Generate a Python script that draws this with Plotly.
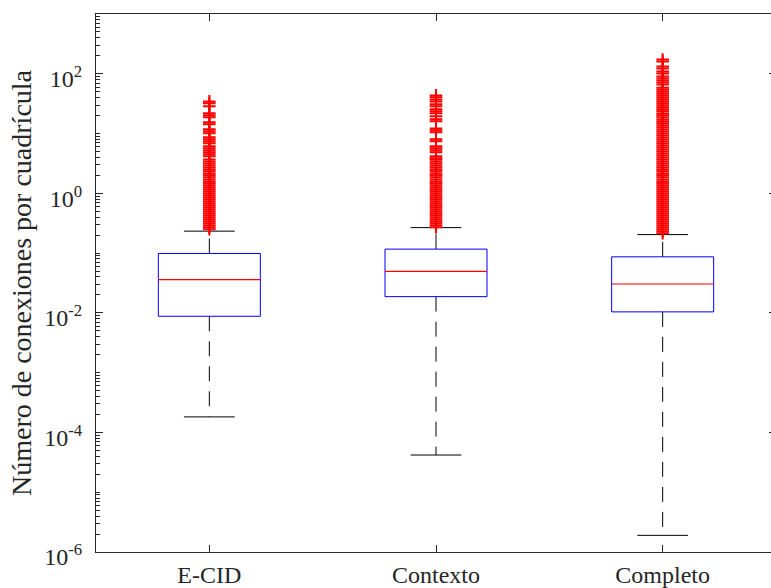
import plotly.graph_objects as go

# Box statistics per configuration
categories = ["E-CID", "Contexto", "Completo"]
q1 = [0.00878, 0.0187, 0.0104]
median = [0.0359, 0.0493, 0.0304]
q3 = [0.0985, 0.1166, 0.0867]
whisker_low = [1.82e-4, 4.19e-5, 1.9e-6]
whisker_high = [0.233, 0.267, 0.204]

# Outliers above the upper whisker
outliers_ecid = [
    0.251, 0.271, 0.293, 0.316, 0.342, 0.369, 0.398, 0.430, 0.464, 0.501,
    0.541, 0.584, 0.631, 0.681, 0.736, 0.794, 0.858, 0.926, 1.00, 1.08,
    1.17, 1.26, 1.36, 1.47, 1.58, 1.71, 1.85, 2.00, 2.15, 2.33,
    2.51, 2.71, 2.93, 3.16, 3.42, 3.69,
    4.19, 4.52, 4.88, 5.27, 5.69, 6.14, 6.89, 7.44, 8.03, 8.67,
    10.1, 10.9, 11.8, 14.3, 15.4, 18.7, 20.2, 21.8, 28.5, 32.0, 34.5,
]
outliers_contexto = [
    0.271, 0.293, 0.316, 0.342, 0.369, 0.398, 0.430, 0.464, 0.501, 0.541,
    0.584, 0.631, 0.681, 0.736, 0.794, 0.858, 0.926, 1.00, 1.08, 1.17,
    1.26, 1.36, 1.47, 1.58, 1.71, 1.85, 2.00, 2.15, 2.33, 2.51,
    2.71, 2.93, 3.16, 3.42, 3.69, 3.87,
    4.19, 4.88, 5.27, 5.69, 6.14, 7.44, 8.03, 10.5, 11.4, 12.2,
    16.0, 17.3, 19.4, 21.8, 23.5, 25.4, 28.5, 30.8, 34.5, 37.3, 40.3, 43.5,
]
outliers_completo = [
    0.215, 0.233, 0.251, 0.271, 0.293, 0.316, 0.342, 0.369, 0.398, 0.430,
    0.464, 0.501, 0.541, 0.584, 0.631, 0.681, 0.736, 0.794, 0.858, 0.926,
    1.00, 1.08, 1.17, 1.26, 1.36, 1.47, 1.58, 1.71, 1.85, 2.00,
    2.15, 2.33, 2.51, 2.71, 2.93, 3.16, 3.42, 3.69, 3.98, 4.30,
    4.64, 5.01, 5.41, 5.84, 6.31, 6.81, 7.36, 7.94, 8.58, 9.26,
    10.0, 10.8, 11.7, 12.6, 13.6, 14.7, 15.8, 17.1, 18.5, 20.0,
    21.5, 23.3, 25.1, 27.1, 29.3, 31.6, 34.1, 36.9, 39.8, 43.0,
    46.4, 50.1, 54.1, 58.4,
    66.4, 71.6, 77.3, 83.5, 90.0, 101.0, 109.0, 122.0, 132.0, 160.0, 173.0,
]
outliers = [outliers_ecid, outliers_contexto, outliers_completo]

y_tick_vals = [1e-6, 1e-4, 1e-2, 1, 1e2]
y_tick_text = ["10<sup>-6</sup>", "10<sup>-4</sup>", "10<sup>-2</sup>",
               "10<sup>0</sup>", "10<sup>2</sup>"]

SERIF = "Liberation Serif, Times New Roman, serif"
AXIS_COLOR = "#262626"
BOX_HALF = 0.225
CAP_HALF = 0.112

fig = go.Figure()

for i, name in enumerate(categories):
    x = i + 1
    # dashed whiskers, drawn from the box outwards
    for start, end in ((q1[i], whisker_low[i]), (q3[i], whisker_high[i])):
        fig.add_trace(go.Scatter(
            x=[x, x], y=[start, end], mode="lines",
            line=dict(color="black", width=1, dash="15px,10px"),
            hoverinfo="skip", showlegend=False))
    # whisker caps
    for w in (whisker_low[i], whisker_high[i]):
        fig.add_trace(go.Scatter(
            x=[x - CAP_HALF, x + CAP_HALF], y=[w, w], mode="lines",
            line=dict(color="black", width=1),
            hoverinfo="skip", showlegend=False))
    # box
    fig.add_trace(go.Scatter(
        x=[x - BOX_HALF, x + BOX_HALF, x + BOX_HALF, x - BOX_HALF, x - BOX_HALF],
        y=[q1[i], q1[i], q3[i], q3[i], q1[i]], mode="lines",
        line=dict(color="#0000ff", width=1),
        hoverinfo="skip", showlegend=False))
    # median
    fig.add_trace(go.Scatter(
        x=[x - BOX_HALF, x + BOX_HALF], y=[median[i], median[i]], mode="lines",
        line=dict(color="#ff0000", width=1.2),
        hoverinfo="skip", showlegend=False))

for i, vals in enumerate(outliers):
    fig.add_trace(go.Scatter(
        x=[i + 1] * len(vals), y=vals, mode="markers",
        marker=dict(symbol="cross-thin", size=9,
                    line=dict(color="#ff0000", width=2)),
        hoverinfo="y", showlegend=False))

fig.update_layout(
    width=776, height=588,
    margin=dict(l=96, r=0, t=14, b=36),
    paper_bgcolor="white", plot_bgcolor="white",
    font=dict(family=SERIF, size=24, color=AXIS_COLOR),
    showlegend=False,
)
fig.update_xaxes(
    range=[0.5, 3.5], tickvals=[1, 2, 3], ticktext=categories,
    ticks="inside", ticklen=7, tickcolor=AXIS_COLOR,
    showline=True, linecolor=AXIS_COLOR, linewidth=1, mirror="ticks",
    showgrid=False, zeroline=False, automargin=False, ticklabelstandoff=1,
    tickfont=dict(family=SERIF, size=24, color=AXIS_COLOR),
)
fig.update_yaxes(
    type="log", range=[-6, 3],
    tickvals=y_tick_vals, ticktext=y_tick_text,
    ticks="inside", ticklen=7, tickcolor=AXIS_COLOR,
    minor=dict(ticks="inside", ticklen=4, dtick="D1", tickcolor=AXIS_COLOR,
               showgrid=False),
    showline=True, linecolor=AXIS_COLOR, linewidth=1, mirror="ticks",
    showgrid=False, zeroline=False, automargin=False,
    ticklabelstandoff=8, ticklabelshift=5,
    tickfont=dict(family=SERIF, size=24, color=AXIS_COLOR),
    title=dict(text="Número de conexiones por cuadrícula",
               font=dict(family=SERIF, size=28, color=AXIS_COLOR),
               standoff=4),
)

fig.write_html(
    "out.html",
    post_script="document.documentElement.style.overflow='hidden';"
                "document.body.style.overflow='hidden';",
)
